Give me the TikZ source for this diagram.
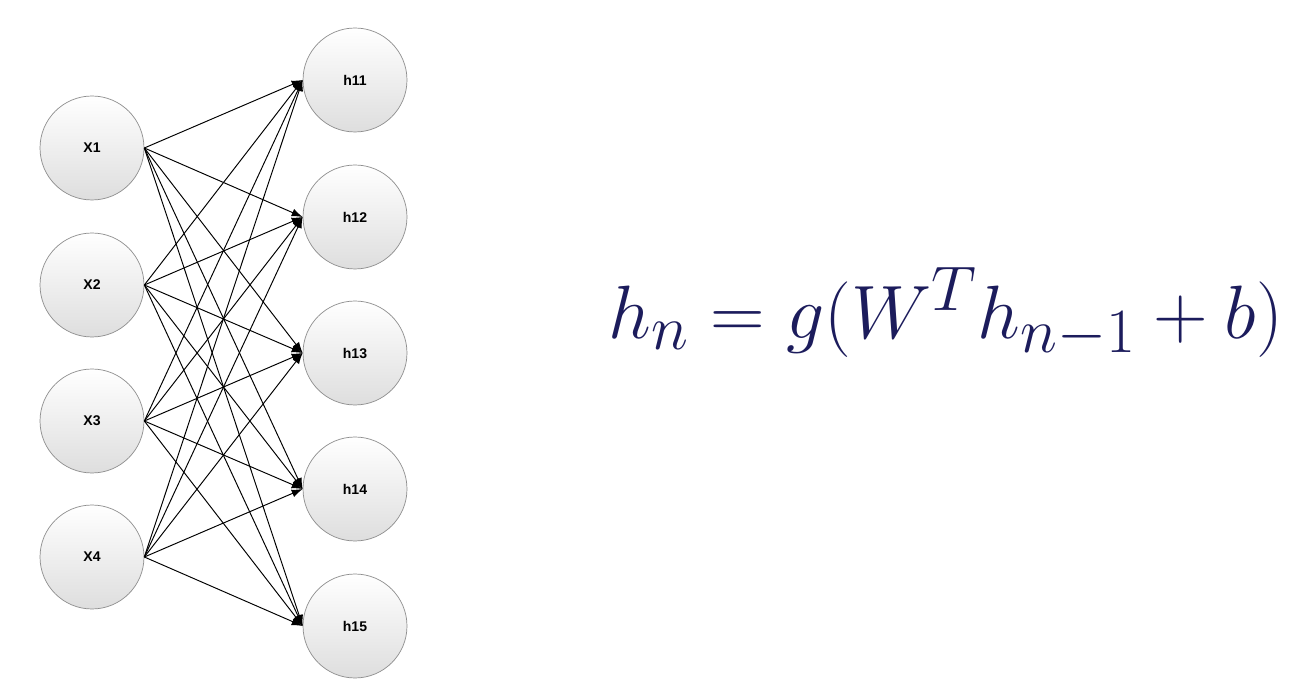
\documentclass[tikz,border=0pt]{standalone}
\usepackage{graphicx}
\usepackage{fontspec}
\setsansfont{Liberation Sans}
\usetikzlibrary{arrows.meta}
\definecolor{eqnavy}{RGB}{28,28,92}
\definecolor{rimgray}{RGB}{140,140,140}
\tikzset{
  neuron/.style={circle,draw=rimgray,thin,minimum size=2.08cm,inner sep=0pt,
    top color=white,bottom color=black!13,font=\sffamily\bfseries\footnotesize},
  wire/.style={-{Latex[length=2.2mm,width=1.6mm]},black,line width=0.55pt}
}
\begin{document}
\begin{tikzpicture}[x=0.02cm,y=-0.02cm]
\useasboundingbox (0,0) rectangle (1307,688);

\node[neuron] (x1) at (92,148) {X1};
\node[neuron] (x2) at (92,285) {X2};
\node[neuron] (x3) at (92,421) {X3};
\node[neuron] (x4) at (92,557) {X4};

\node[neuron] (h11) at (355,80) {h11};
\node[neuron] (h12) at (355,217) {h12};
\node[neuron] (h13) at (355,353) {h13};
\node[neuron] (h14) at (355,489) {h14};
\node[neuron] (h15) at (355,626) {h15};

\draw[wire] (x1.east) -- (h11.west);
\draw[wire] (x1.east) -- (h12.west);
\draw[wire] (x1.east) -- (h13.west);
\draw[wire] (x1.east) -- (h14.west);
\draw[wire] (x1.east) -- (h15.west);

\draw[wire] (x2.east) -- (h11.west);
\draw[wire] (x2.east) -- (h12.west);
\draw[wire] (x2.east) -- (h13.west);
\draw[wire] (x2.east) -- (h14.west);
\draw[wire] (x2.east) -- (h15.west);

\draw[wire] (x3.east) -- (h11.west);
\draw[wire] (x3.east) -- (h12.west);
\draw[wire] (x3.east) -- (h13.west);
\draw[wire] (x3.east) -- (h14.west);
\draw[wire] (x3.east) -- (h15.west);

\draw[wire] (x4.east) -- (h11.west);
\draw[wire] (x4.east) -- (h12.west);
\draw[wire] (x4.east) -- (h13.west);
\draw[wire] (x4.east) -- (h14.west);
\draw[wire] (x4.east) -- (h15.west);

% update rule
\node[text=eqnavy,font=\Huge,inner sep=0pt] (rule) at (946,313)
  {\scalebox{1.73}{$h_n = g(W^T h_{n-1} + b)$}};

\end{tikzpicture}
\end{document}
